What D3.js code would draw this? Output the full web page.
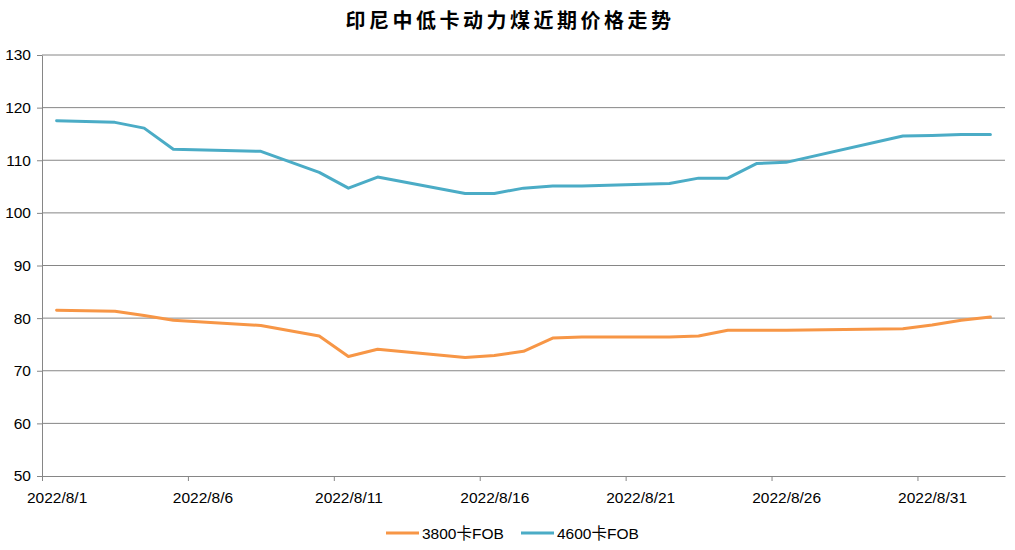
<!DOCTYPE html>
<html>
<head>
<meta charset="utf-8">
<script src="https://cdn.jsdelivr.net/npm/d3@7"></script>
<style>
  body { margin: 0; background: #fff; }
  svg { display: block; }
  .axis text { font-family: "Liberation Sans", Arial, sans-serif; font-size: 15.5px; fill: #000; }
  .axis path, .axis line { stroke: #868686; }
</style>
</head>
<body>
<svg></svg>
<script>
var dates = ["2022/8/1", "2022/8/3", "2022/8/4", "2022/8/5", "2022/8/8", "2022/8/10", "2022/8/11",
    "2022/8/12", "2022/8/15", "2022/8/16", "2022/8/17", "2022/8/18", "2022/8/19", "2022/8/22",
    "2022/8/23", "2022/8/24", "2022/8/25", "2022/8/26", "2022/8/30", "2022/8/31", "2022/9/1", "2022/9/2"];
var cal3800 = [81.5, 81.3, 80.5, 79.6, 78.6, 76.6, 72.7, 74.1, 72.5, 72.9, 73.7, 76.2, 76.4, 76.4,
    76.6, 77.7, 77.7, 77.7, 78.0, 78.7, 79.6, 80.2];
var cal4600 = [117.5, 117.2, 116.1, 112.1, 111.7, 107.7, 104.7, 106.8, 103.7, 103.7, 104.7, 105.1, 105.1, 105.6,
    106.6, 106.6, 109.4, 109.6, 114.6, 114.7, 114.9, 114.9];
var seriesNames = ["3800卡FOB", "4600卡FOB"];
var tickDates = ["2022/8/1", "2022/8/6", "2022/8/11", "2022/8/16", "2022/8/21", "2022/8/26", "2022/8/31"];
var yTicks = [50, 60, 70, 80, 90, 100, 110, 120, 130];
var colors = ["#F79646", "#4BACC6"];

var viewWidth = 1015;
var viewHeight = 550;
var margin = {top: 55, right: 10, bottom: 74, left: 42};
var w = viewWidth - margin.left - margin.right;
var h = viewHeight - margin.top - margin.bottom;

var parse = d3.timeParse("%Y/%m/%d");
var fmt = function (d) {
    return d.getFullYear() + "/" + (d.getMonth() + 1) + "/" + d.getDate();
};

var root = d3.select("svg")
    .attr("width", viewWidth)
    .attr("height", viewHeight);

root.append("text")
    .attr("x", 510)
    .attr("y", 28)
    .attr("text-anchor", "middle")
    .style("font-family", "'Noto Sans CJK SC', sans-serif")
    .style("font-size", "20px")
    .style("font-weight", "bold")
    .style("letter-spacing", "3.5px")
    .text("印尼中低卡动力煤近期价格走势");

var svg = root.append("g")
    .attr("transform", "translate(" + margin.left + "," + margin.top + ")");

var xScale = d3.scaleTime()
    .domain([parse("2022/8/1"), parse("2022/9/3")])
    .range([0, w]);

var yScale = d3.scaleLinear()
    .domain([50, 130])
    .range([h, 0]);

// points and labels sit in the middle of each day slot
var halfDay = 12 * 3600 * 1000;
var dayShift = xScale(new Date(parse("2022/8/1").getTime() + halfDay)) - xScale(parse("2022/8/1"));

// gridlines
svg.append("g")
    .selectAll("line")
    .data(yTicks.slice(1))
    .enter()
    .append("line")
    .attr("x1", 0)
    .attr("x2", w)
    .attr("y1", function (d) { return yScale(d); })
    .attr("y2", function (d) { return yScale(d); })
    .attr("stroke", "#868686")
    .attr("stroke-width", 1);

var xAxis = d3.axisBottom(xScale)
    .tickValues(tickDates.map(parse))
    .tickFormat(fmt)
    .tickSize(5)
    .tickSizeOuter(0);

var yAxis = d3.axisLeft(yScale)
    .tickValues(yTicks)
    .tickSize(5)
    .tickSizeOuter(0)
    .tickPadding(6);

svg.append("g")
    .attr("class", "axis")
    .attr("transform", "translate(0," + h + ")")
    .call(xAxis)
    .selectAll("text")
    .attr("dx", dayShift)
    .attr("dy", "1.25em");

svg.append("g")
    .attr("class", "axis")
    .call(yAxis);

var line = d3.line()
    .x(function (d) { return xScale(new Date(d.date.getTime() + halfDay)); })
    .y(function (d) { return yScale(d.v); });

[cal3800, cal4600].forEach(function (vals, i) {
    var pts = dates.map(function (d, j) {
        return {date: parse(d), v: vals[j]};
    });
    svg.append("path")
        .datum(pts)
        .attr("fill", "none")
        .attr("stroke", colors[i])
        .attr("stroke-width", 3)
        .attr("stroke-linejoin", "round")
        .attr("stroke-linecap", "round")
        .attr("d", line);
});

// legend
var legendX = [386, 521];
var legend = root.append("g")
    .selectAll("g")
    .data(seriesNames)
    .enter()
    .append("g")
    .attr("transform", function (d, i) {
        return "translate(" + legendX[i] + ",533)";
    });

legend.append("line")
    .attr("x1", 0)
    .attr("x2", 33)
    .attr("stroke", function (d, i) { return colors[i]; })
    .attr("stroke-width", 3);

legend.append("text")
    .attr("x", 36)
    .attr("y", 5.5)
    .style("font-family", "'Liberation Sans', 'Noto Sans CJK SC', sans-serif")
    .style("font-size", "15.5px")
    .text(function (d) { return d; });
</script>
</body>
</html>
